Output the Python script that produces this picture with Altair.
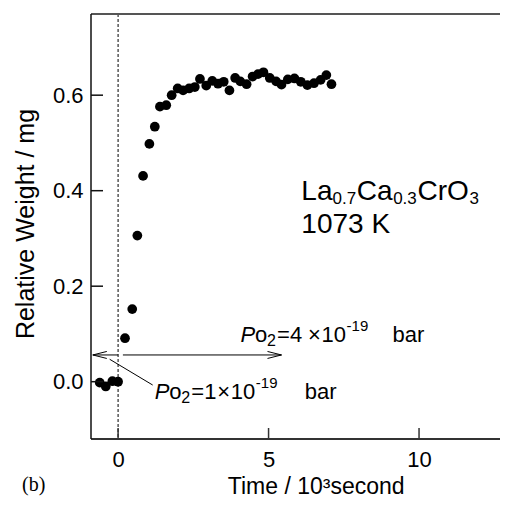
import altair as alt
import pandas as pd

# ---------------- data ----------------
time_ks = [-0.61, -0.41, -0.19, 0.00, 0.23, 0.47, 0.64, 0.83, 1.04, 1.22,
           1.39, 1.60, 1.78, 1.98, 2.16, 2.36, 2.55, 2.72, 2.93, 3.13,
           3.32, 3.51, 3.70, 3.89, 4.06, 4.27, 4.47, 4.65, 4.83, 5.04,
           5.25, 5.43, 5.64, 5.86, 6.07, 6.29, 6.51, 6.73, 6.92, 7.09]
weight_mg = [-0.002, -0.010, 0.001, 0.000, 0.091, 0.152, 0.306, 0.431, 0.498, 0.534,
             0.576, 0.579, 0.600, 0.614, 0.610, 0.614, 0.617, 0.634, 0.620, 0.630,
             0.624, 0.628, 0.610, 0.636, 0.629, 0.623, 0.639, 0.644, 0.648, 0.636,
             0.629, 0.622, 0.633, 0.635, 0.628, 0.621, 0.625, 0.632, 0.642, 0.623]

x_tick_values = [0, 5, 10]
y_tick_values = [0.0, 0.2, 0.4, 0.6]
x_domain = [-0.9, 12.69]
y_domain = [-0.12, 0.77]

switch_time = [0.0]
arrow_level = 0.056
arrow_left_x = [-0.84, 0.0]      # tip, tail
arrow_right_x = [0.16, 5.43]     # tail, tip
leader_x = [-0.28, 1.15]
leader_y = [0.047, -0.007]

upper_anchor = [4.07, 0.083]
lower_anchor = [1.22, -0.037]
formula_anchor = [6.09, 0.3805]
temp_anchor = [6.09, 0.311]
temp_text = "1073 K"
panel_label = "(b)"
x_title = "Time / 10³second"
y_title = "Relative Weight / mg"

# ---------------- layout / style ----------------
W, H = 409, 425
SANS = "Liberation Sans, Arial, Helvetica, sans-serif"
SERIF = "Liberation Serif, Times New Roman, serif"

xs = alt.Scale(domain=x_domain, nice=False, zero=False)
ys = alt.Scale(domain=y_domain, nice=False, zero=False)

X_AXIS = alt.Axis(
    values=x_tick_values, format="d", ticks=False, tickSize=0, domain=False, grid=False,
    labelFont=SANS, labelFontSize=22, labelColor="black", labelPadding=10,
    title=x_title, titleFont=SANS, titleFontSize=23, titleFontWeight="normal",
    titleColor="black", titleX=224.7, titleY=54, titleAlign="center",
    titleBaseline="alphabetic")
Y_AXIS = alt.Axis(
    values=y_tick_values, format=".1f", ticks=False, tickSize=0, domain=False, grid=False,
    labelFont=SANS, labelFontSize=22, labelColor="black", labelPadding=8,
    title=y_title, titleFont=SANS, titleFontSize=25, titleFontWeight="normal",
    titleColor="black", titleX=-57.7, titleY=209.5, titleAngle=270,
    titleAlign="center", titleBaseline="alphabetic")


def X(field):
    return alt.X(field, scale=xs, axis=X_AXIS)


def Y(field):
    return alt.Y(field, scale=ys, axis=Y_AXIS)


df = pd.DataFrame({"t": time_ks, "w": weight_mg})

points = alt.Chart(df).mark_circle(size=95, color="black", opacity=1).encode(
    x=X("t:Q"), y=Y("w:Q"))

# frame (top, bottom, left; the right side lies beyond the picture)
frame_top = alt.Chart(pd.DataFrame({"k": [0]})).mark_rule(color="#555", strokeWidth=2).encode(
    x=alt.value(0), x2=alt.value(W + 8), y=alt.value(0))
frame_bottom = alt.Chart(pd.DataFrame({"k": [0]})).mark_rule(color="#333", strokeWidth=1.8).encode(
    x=alt.value(0), x2=alt.value(W + 8), y=alt.value(H))
frame_left = alt.Chart(pd.DataFrame({"k": [0]})).mark_rule(color="#111", strokeWidth=1.5).encode(
    x=alt.value(0), y=alt.value(0), y2=alt.value(H))

# inward tick marks
ytick = alt.Chart(pd.DataFrame({"v": y_tick_values})).mark_rule(
    color="#111", strokeWidth=1.5).encode(
    y=Y("v:Q"), x=alt.value(0), x2=alt.value(12))
xtick = alt.Chart(pd.DataFrame({"v": x_tick_values})).mark_rule(
    color="#333", strokeWidth=1.5).encode(
    x=X("v:Q"), y=alt.value(H), y2=alt.value(H - 11))

# dashed switch line
dash = alt.Chart(pd.DataFrame({"v": switch_time})).mark_rule(
    color="black", strokeWidth=1, strokeDash=[3, 2]).encode(x=X("v:Q"))

# arrows
seg = pd.DataFrame({
    "x1": [arrow_left_x[0], arrow_right_x[0], leader_x[0]],
    "x2": [arrow_left_x[1], arrow_right_x[1], leader_x[1]],
    "y1": [arrow_level, arrow_level, leader_y[0]],
    "y2": [arrow_level, arrow_level, leader_y[1]],
})
segments = alt.Chart(seg).mark_rule(color="black", strokeWidth=1).encode(
    x=X("x1:Q"), x2="x2:Q", y=Y("y1:Q"), y2="y2:Q")

head_left = alt.Chart(pd.DataFrame({"x": [arrow_left_x[0]], "y": [arrow_level]})).mark_point(
    shape="M2,-0.5L0,0L2,0.5", size=196, filled=False, color="black", strokeWidth=1, opacity=1
).encode(x=X("x:Q"), y=Y("y:Q"))
head_right = alt.Chart(pd.DataFrame({"x": [arrow_right_x[1]], "y": [arrow_level]})).mark_point(
    shape="M-2,-0.5L0,0L-2,0.5", size=196, filled=False, color="black", strokeWidth=1, opacity=1
).encode(x=X("x:Q"), y=Y("y:Q"))


def piece(anchor, text, dx, dy, size, font=SANS, style="normal"):
    d = pd.DataFrame({"x": [anchor[0]], "y": [anchor[1]], "s": [text]})
    return alt.Chart(d).mark_text(
        align="left", baseline="alphabetic", dx=dx, dy=dy, fontSize=size,
        font=font, fontStyle=style, color="black").encode(
        x=X("x:Q"), y=Y("y:Q"), text="s:N")


def po2(anchor, mant, offs):
    # offs: P, o, 2, =m, x, 10, exp, bar
    return [
        piece(anchor, "P", offs[0], 0, 22, SANS, "italic"),
        piece(anchor, "o", offs[1], 0, 22),
        piece(anchor, "2", offs[2], 4, 16),
        piece(anchor, "=" + mant, offs[3], 0, 22),
        piece(anchor, "×", offs[4], 0, 22),
        piece(anchor, "10", offs[5], 0, 22),
        piece(anchor, "-19", offs[6], -11, 15),
        piece(anchor, "bar", offs[7], 0, 22),
    ]


texts = []
texts += po2(upper_anchor, "4", [0, 14.5, 26.5, 36.5, 67.3, 81, 106, 152])
texts += po2(lower_anchor, "1", [0, 14.5, 26.5, 36.5, 62.5, 76, 101, 150])
texts += [
    piece(formula_anchor, "La", 0, 0, 28),
    piece(formula_anchor, "0.7", 31.1, 4, 17),
    piece(formula_anchor, "Ca", 55.5, 0, 28),
    piece(formula_anchor, "0.3", 91.8, 4, 17),
    piece(formula_anchor, "CrO", 116.2, 0, 28),
    piece(formula_anchor, "3", 168.2, 4, 17),
    piece(temp_anchor, temp_text, 0, 0, 28),
]

label_b = alt.Chart(pd.DataFrame({"s": [panel_label]})).mark_text(
    align="left", baseline="alphabetic", fontSize=20, font=SERIF, color="black"
).encode(x=alt.value(-69), y=alt.value(477), text="s:N")

chart = alt.layer(points, dash, segments, head_left, head_right, ytick, xtick,
                  frame_top, frame_bottom, frame_left,
                  *texts, label_b).properties(
    width=W, height=H,
    background="white",
    autosize=alt.AutoSizeParams(type="none"),
    padding={"left": 83, "top": 6, "right": 0, "bottom": 58},
).configure_view(stroke=None)

chart.save("out.html", embed_options={"renderer": "svg", "actions": False})
